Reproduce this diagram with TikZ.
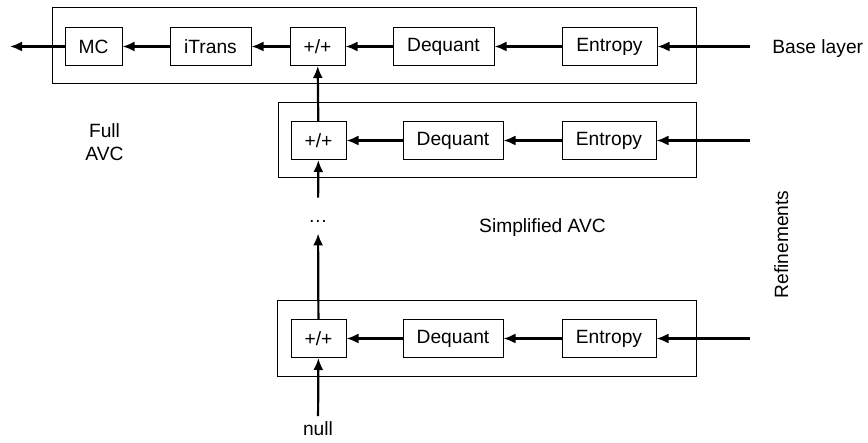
\documentclass[tikz,border=0pt]{standalone}
\usepackage{fontspec}
\setmainfont{Liberation Sans}
\usetikzlibrary{arrows.meta}
\begin{document}
\begin{tikzpicture}[x=0.5pt,y=-0.5pt,
  blk/.style={draw,line width=0.5pt,minimum height=19pt,inner sep=0pt,font=\fontsize{9.6}{11.5}\selectfont},
  grp/.style={draw,line width=0.5pt},
  flow/.style={-{Latex[length=6pt,width=5pt]},line width=1.1pt},
  lbl/.style={font=\fontsize{9.6}{11.5}\selectfont,inner sep=0pt}]
\useasboundingbox (0,0) rectangle (868,443);
\draw[grp] (52,8) rectangle (696,84);
\draw[grp] (278,103) rectangle (696,178);
\draw[grp] (277,301) rectangle (696,377);
% base layer
\node[blk,minimum width=28.5pt] (mc) at (93.5,46.5) {MC};
\node[blk,minimum width=40.5pt] (it) at (210.5,46.5) {iTrans};
\node[blk,minimum width=27.5pt] (s0) at (317.5,46.5) {+/+};
\node[blk,minimum width=50.5pt] (d0) at (443.5,46.5) {Dequant};
\node[blk,minimum width=47.5pt] (e0) at (609.5,46.5) {Entropy};
% refinements
\node[blk,minimum width=27.5pt] (s1) at (318.5,140.5) {+/+};
\node[blk,minimum width=50pt] (d1) at (453,140.5) {Dequant};
\node[blk,minimum width=47pt] (e1) at (609,140.5) {Entropy};
\node[blk,minimum width=27.5pt] (s2) at (318.5,338.5) {+/+};
\node[blk,minimum width=50pt] (d2) at (453,338.5) {Dequant};
\node[blk,minimum width=47pt] (e2) at (609,338.5) {Entropy};
% labels
\node[lbl,anchor=base west] (base) at (772,54) {Base layer};
\node[lbl,align=center] (full) at (104.5,142.5) {Full\\AVC};
\node[lbl,anchor=base] (simp) at (542.5,233) {Simplified AVC};
\node[lbl,rotate=90,anchor=base] (refn) at (788,244.5) {Refinements};
\node[lbl,text height=12.5pt,text depth=5pt] (dots) at (318,215.5) {\ldots};
\node[lbl,inner sep=2.5pt] (null) at (318,428.5) {null};
\coordinate (out) at (10,46.5);
\coordinate (in0) at (750,46.5);
\coordinate (r1) at (750,140.5);
\coordinate (r2) at (750,338.5);
\draw[flow] (in0) -- (e0);
\draw[flow] (e0) -- (d0);
\draw[flow] (d0) -- (s0);
\draw[flow] (s0) -- (it);
\draw[flow] (it) -- (mc);
\draw[flow] (mc) -- (out);
\draw[flow] (r1) -- (e1);
\draw[flow] (e1) -- (d1);
\draw[flow] (d1) -- (s1);
\draw[flow] (r2) -- (e2);
\draw[flow] (e2) -- (d2);
\draw[flow] (d2) -- (s2);
\draw[flow] (s1) -- (s0);
\draw[flow] (dots) -- (s1);
\draw[flow] (s2) -- (dots);
\draw[flow] (null) -- (s2);
\end{tikzpicture}
\end{document}
